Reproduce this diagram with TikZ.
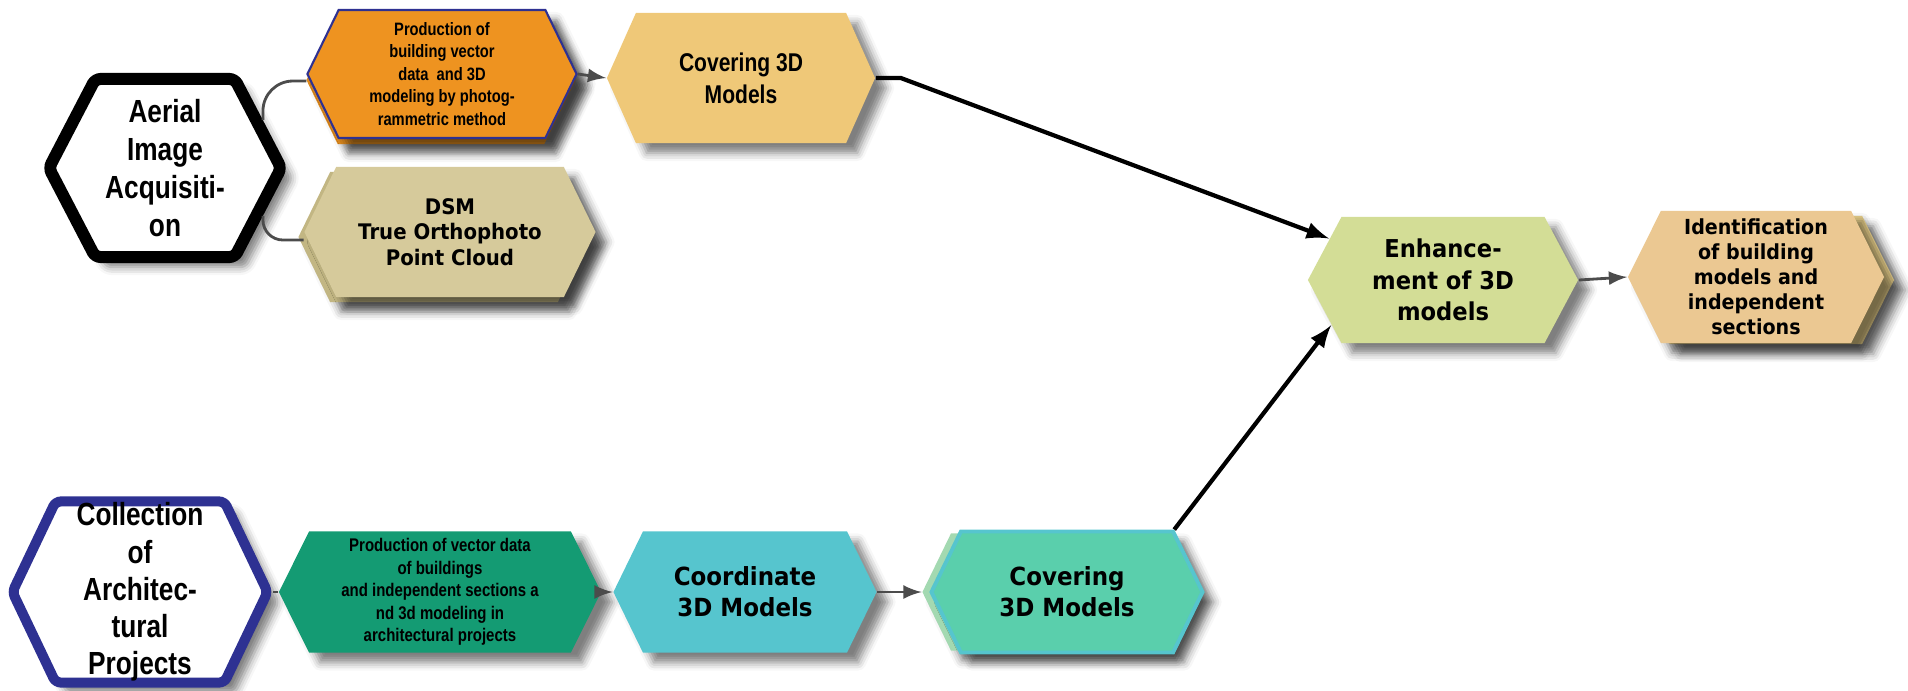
\documentclass[tikz,border=0pt]{standalone}
\usepackage{fontspec}
\usetikzlibrary{shapes.symbols,shadows.blur}
\newfontfamily\narrowsans[FakeStretch=0.82]{Liberation Sans}
\newfontfamily\tahsans[FakeStretch=0.92]{DejaVu Sans}
\definecolor{orangefill}{HTML}{EE9320}
\definecolor{orangeback}{HTML}{DE8A1E}
\definecolor{frameblue}{HTML}{2E3192}
\definecolor{coverfill}{HTML}{EFC878}
\definecolor{dsmfill}{HTML}{D6CA9B}
\definecolor{dsmback}{HTML}{C2B683}
\definecolor{enhfill}{HTML}{D3DD96}
\definecolor{identfill}{HTML}{EBC892}
\definecolor{identback}{HTML}{EED58E}
\definecolor{greenfill}{HTML}{149B73}
\definecolor{coordfill}{HTML}{56C5CE}
\definecolor{mintfill}{HTML}{5ACFAC}
\definecolor{mintback}{HTML}{A3D9B1}
\begin{document}
\begin{tikzpicture}[x=0.01cm,y=-0.01cm,>=latex,
  hexbox/.style={signal,signal to=east and west,signal pointer angle=128,
    inner sep=0pt,align=center,
    blur shadow={shadow xshift=0.11cm,shadow yshift=-0.1cm,shadow blur radius=0.08cm,shadow opacity=50}},
  bighex/.style={hexbox,rounded corners=1.5pt,fill=white},
  link/.style={draw=black!70,line width=0.8pt},
  flow/.style={draw=black,line width=1.2pt}]
  \useasboundingbox (0,0) rectangle (1908,690);

  % Aerial branch
  \node[bighex,draw=black,line width=3.4pt,signal pointer angle=125,
    minimum width=2.32cm,minimum height=1.78cm,
    font=\narrowsans\bfseries\fontsize{9.1pt}{10.8pt}\selectfont]
    (aerial) at (165,168) {Aerial\\Image\\Acquisiti-\\on};

  \node[hexbox,fill=orangeback,minimum width=2.69cm,minimum height=1.28cm]
    (prodaerback) at (441,80) {};
  \node[hexbox,fill=orangefill,draw=frameblue,line width=0.6pt,
    minimum width=2.69cm,minimum height=1.28cm,
    font=\narrowsans\bfseries\fontsize{5.1pt}{6.4pt}\selectfont]
    (prodaer) at (442,74)
    {Production of\\building vector\\data\ \ and 3D\\modeling by photog-\\rammetric method};

  \node[hexbox,fill=coverfill,signal pointer angle=132,
    minimum width=2.68cm,minimum height=1.30cm,
    font=\narrowsans\bfseries\fontsize{7.3pt}{9.1pt}\selectfont]
    (cover1) at (741,78) {Covering 3D\\Models};

  \node[hexbox,fill=dsmback,minimum width=2.91cm,minimum height=1.30cm]
    (dsmback) at (444,237) {};
  \node[hexbox,fill=dsmfill,minimum width=2.91cm,minimum height=1.30cm,
    font=\tahsans\bfseries\fontsize{6.1pt}{7.2pt}\selectfont]
    (dsm) at (450,232) {DSM\\True Orthophoto\\Point Cloud};

  % Result side
  \node[hexbox,fill=enhfill,signal pointer angle=124,
    minimum width=2.70cm,minimum height=1.26cm,
    font=\tahsans\bfseries\fontsize{7pt}{9pt}\selectfont]
    (enh) at (1443,280) {Enhance-\\ment of 3D\\models};

  \node[hexbox,fill=identback,signal pointer angle=127,
    minimum width=2.56cm,minimum height=1.28cm]
    (identback) at (1766,280) {};
  \node[hexbox,fill=identfill,signal pointer angle=127,
    minimum width=2.56cm,minimum height=1.32cm,
    font=\tahsans\bfseries\fontsize{5.9pt}{7.1pt}\selectfont]
    (ident) at (1756,277)
    {Identification\\of building\\models and\\independent\\sections};

  % Architectural branch
  \node[bighex,draw=frameblue,line width=2.85pt,signal pointer angle=129,
    minimum width=2.55cm,minimum height=1.81cm,
    font=\narrowsans\bfseries\fontsize{9.1pt}{10.6pt}\selectfont]
    (collect) at (140,592) {Collection\\of\\Architec-\\tural\\Projects};

  \node[hexbox,fill=greenfill,signal pointer angle=127,
    minimum width=3.22cm,minimum height=1.21cm,
    font=\narrowsans\bfseries\fontsize{5.2pt}{6.4pt}\selectfont]
    (prodarch) at (440,592)
    {Production of vector data\\of buildings\\and independent sections a\\nd 3d modeling in\\architectural projects};

  \node[hexbox,fill=coordfill,
    minimum width=2.63cm,minimum height=1.21cm,
    font=\tahsans\bfseries\fontsize{7.1pt}{8.8pt}\selectfont]
    (coord) at (745,592) {Coordinate\\3D Models};

  \node[hexbox,fill=mintback,
    minimum width=2.71cm,minimum height=1.17cm]
    (cover2back) at (1058,592) {};
  \node[hexbox,fill=mintfill,draw=coordfill,line width=1.1pt,
    minimum width=2.71cm,minimum height=1.21cm,
    font=\tahsans\bfseries\fontsize{7.1pt}{8.8pt}\selectfont]
    (cover2) at (1067,592) {Covering\\3D Models};

  % Links
  \draw[link,rounded corners=0.3cm] (aerial.26) |- ([yshift=-0.07cm]prodaer.west);
  \draw[link,rounded corners=0.2cm] (aerial.-26) |- ([yshift=-0.08cm]dsm.west);
  \draw[link,->] (prodaer.east) -- (cover1.west);
  \draw[flow,->] (cover1.east) -- ++(25,0) -- (enh.160);
  \draw[flow,->] (cover2.north east) -- (enh.202);
  \draw[link,->] (enh.east) -- (ident.west);
  \draw[link] (collect.east) -- (prodarch.west);
  \draw[link,->] (prodarch.east) -- (coord.west);
  \draw[link,->] (coord.east) -- (cover2back.west);
\end{tikzpicture}
\end{document}
